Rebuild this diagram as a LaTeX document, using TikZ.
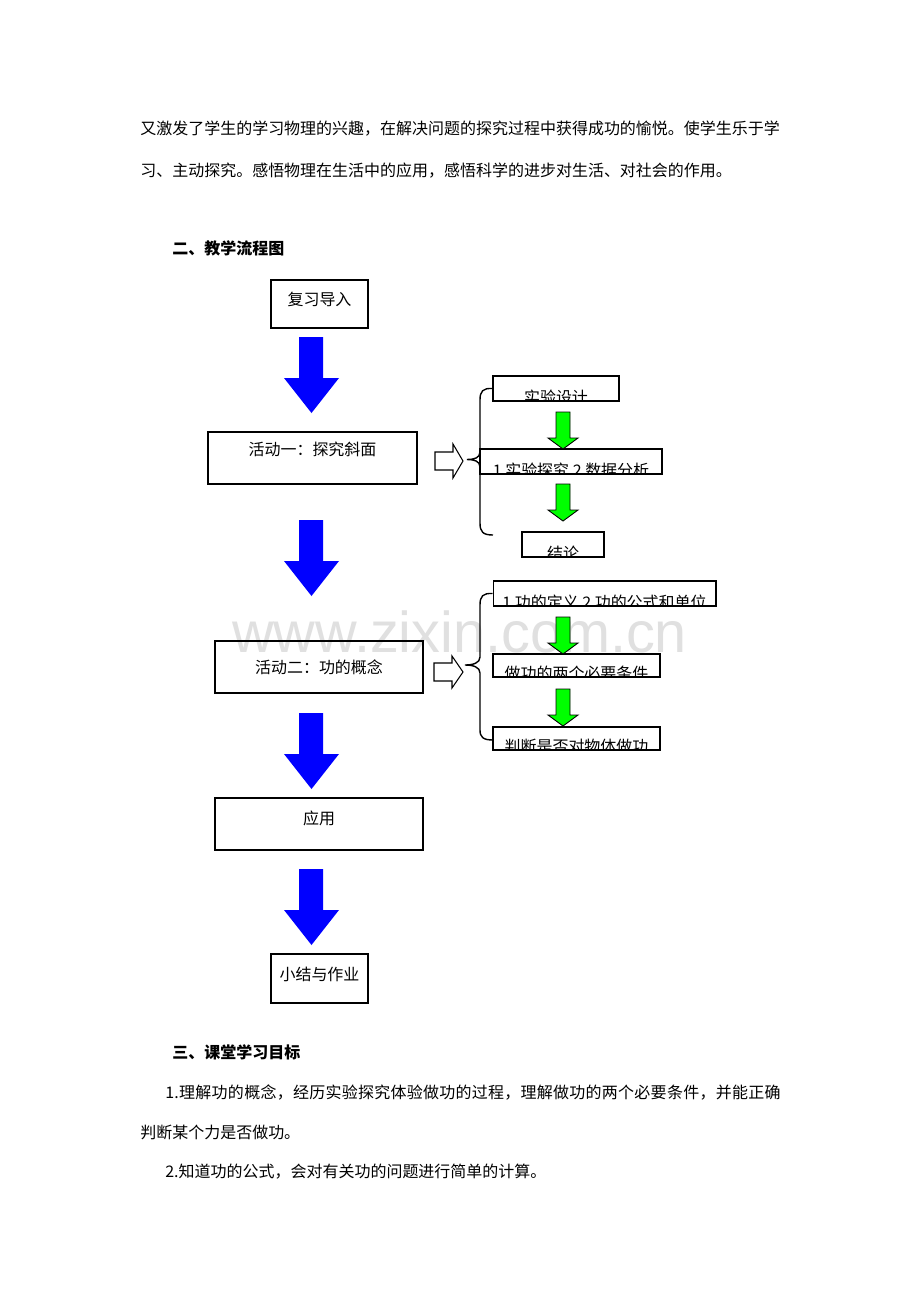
\documentclass[tikz,border=0pt]{standalone}
\usepackage{fontspec}
\newfontfamily\cjk{Noto Sans CJK SC}
\newfontfamily\cjkwide{Noto Sans CJK SC}[LetterSpace=1.7]
\newfontfamily\wmark{Liberation Sans}
\tikzset{
  flowbox/.style={draw, line width=0.6pt, inner sep=0pt, font=\cjk\fontsize{9.1pt}{11pt}\selectfont},
  subbox/.style={draw, line width=0.6pt, inner sep=0pt, minimum height=0.5cm,
    path picture={\node[draw=none, anchor=base, yshift=-0.04cm, inner sep=0pt,
      font=\cjk\fontsize{9.1pt}{11pt}\selectfont] at (path picture bounding box.south) {#1};}},
  bodytext/.style={anchor=west, inner sep=0pt, font=\cjk\fontsize{9.1pt}{11pt}\selectfont},
  bluearr/.style={fill=blue},
  greenarr/.style={fill=green, draw=black, line width=0.5pt},
  hollowarr/.style={draw=black, line width=0.6pt, fill=white},
  bracket/.style={draw=black, line width=0.8pt}
}
\begin{document}
\begin{tikzpicture}[x=0.02cm,y=-0.02cm]
\path[use as bounding box, fill=white] (0,0) rectangle (920,1302);
% watermark
\node[anchor=base west, inner sep=0pt, text=black!12, font=\wmark\fontsize{32.8pt}{33pt}\selectfont] (wm) at (232,652) {www.zixin.com.cn};
% text above
\node[bodytext] (par1) at (140,129) {又激发了学生的学习物理的兴趣，在解决问题的探究过程中获得成功的愉悦。使学生乐于学};
\node[bodytext] (par2) at (140,171) {习、主动探究。感悟物理在生活中的应用，感悟科学的进步对生活、对社会的作用。};
\node[bodytext, font=\cjk\bfseries\fontsize{9.1pt}{11pt}\selectfont] (head2) at (172,248) {二、教学流程图};
% main flow
\node[flowbox, minimum width=1.94cm, minimum height=0.96cm, text depth=0.2cm] (review) at (319.5,304) {复习导入};
\node[flowbox, minimum width=4.18cm, minimum height=1.04cm, text depth=0.36cm] (act1) at (312.5,458) {活动一：探究斜面};
\node[flowbox, minimum width=4.16cm, minimum height=1.04cm] (act2) at (319,667) {活动二：功的概念};
\node[flowbox, minimum width=4.16cm, minimum height=1.04cm, text depth=0.24cm] (apply) at (319,824) {应用};
\node[flowbox, minimum width=1.94cm, minimum height=0.98cm, text depth=0.18cm] (summary) at (319.5,978.5) {小结与作业};
\foreach \t in {337,520,713,869}
  \fill[bluearr] (299,\t) -- (323,\t) -- (323,\t+41) -- (339,\t+41) -- (311.5,\t+76) -- (284,\t+41) -- (299,\t+41) -- cycle;
% activity one
\node[subbox=实验设计, minimum width=2.52cm] (design) at (556,388.5) {};
\node[subbox=1 实验探究 2 数据分析, minimum width=3.64cm] (explore) at (571,461.5) {};
\node[subbox=结论, minimum width=1.64cm] (result) at (563,544.5) {};
\draw[hollowarr] (435,452) -- (453,452) -- (453,444) -- (463,461) -- (453,478) -- (453,470) -- (435,470) -- cycle;
\draw[bracket] (design.west) .. controls (483,388) and (480,391) .. (480,400) -- (480,452)
  .. controls (480,458) and (474,459.5) .. (467,459.5) .. controls (474,459.5) and (480,461) .. (480,467)
  -- (480,523) .. controls (480,532) and (483,535) .. (493,535);
% activity two
\node[subbox=1 功的定义 2 功的公式和单位, minimum width=4.46cm] (define) at (604.5,593.5) {};
\node[subbox=做功的两个必要条件, minimum width=3.34cm, minimum height=0.46cm] (cond) at (576.5,665.5) {};
\node[subbox=判断是否对物体做功, minimum width=3.34cm, minimum height=0.46cm] (judge) at (576.5,738.5) {};
\draw[hollowarr] (434,663) -- (452,663) -- (452,656) -- (463,672) -- (452,688) -- (452,681) -- (434,681) -- cycle;
\draw[bracket] (define.west) .. controls (483,593) and (480,596) .. (480,605) -- (480,657)
  .. controls (480,663) and (473,665) .. (465,665) .. controls (473,665) and (480,667) .. (480,673)
  -- (480,730) .. controls (480,737) and (483,740) .. (493,740);
\foreach \t in {412,484,617,689}
  \filldraw[greenarr] (556,\t) -- (570,\t) -- (570,\t+26) -- (578,\t+26) -- (563,\t+37) -- (548,\t+26) -- (556,\t+26) -- cycle;
% text below
\node[bodytext, font=\cjk\bfseries\fontsize{9.1pt}{11pt}\selectfont] (head3) at (172,1052) {三、课堂学习目标};
\node[bodytext, font=\cjkwide\fontsize{9.1pt}{11pt}\selectfont] (aim1) at (165,1092) {1.理解功的概念，经历实验探究体验做功的过程，理解做功的两个必要条件，并能正确};
\node[bodytext] (aim1b) at (140,1132) {判断某个力是否做功。};
\node[bodytext] (aim2) at (165,1172) {2.知道功的公式，会对有关功的问题进行简单的计算。};
\end{tikzpicture}
\end{document}
